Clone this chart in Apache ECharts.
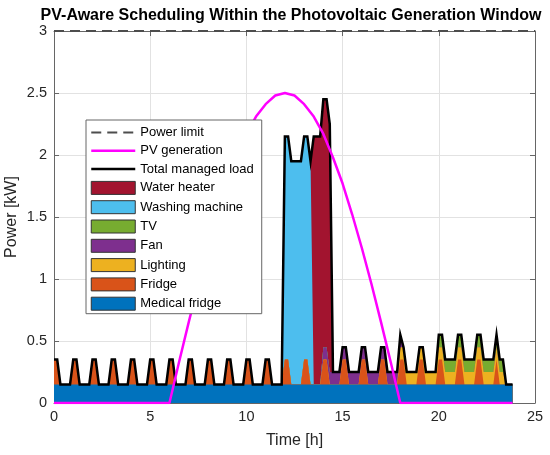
<!DOCTYPE html>
<html>
<head>
<meta charset="utf-8">
<script src="https://cdn.jsdelivr.net/npm/echarts@6/dist/echarts.min.js"></script>
<style>
html, body { margin: 0; padding: 0; background: #fff; }
#chart { width: 550px; height: 455px; }
</style>
</head>
<body>
<div id="chart"></div>
<script>
/**************** data ****************/
var sampleMinutes = 10;       // schedule time step
var dayEnd = '23:50';         // last sample of the day
var xTicks = [0, 5, 10, 15, 20, 25];
var yTicks = [0, 0.5, 1, 1.5, 2, 2.5, 3];
var powerLimitKW = 3;

// power of each appliance [kW] and when it runs (hh:mm, both ends included)
var medicalFridgeKW = 0.15;
var medicalFridgeOn = [['00:00', '23:50']];

var fridgeKW = 0.2;
var fridgeOn = [
    ['00:00', '00:10'], ['01:00', '01:10'], ['02:00', '02:10'], ['03:00', '03:10'],
    ['04:00', '04:10'], ['05:00', '05:10'], ['06:00', '06:10'], ['07:00', '07:10'],
    ['08:00', '08:10'], ['09:00', '09:10'], ['10:00', '10:10'], ['11:00', '11:10'],
    ['12:00', '12:10'], ['13:00', '13:10'], ['14:00', '14:10'], ['15:00', '15:10'],
    ['16:00', '16:10'], ['17:00', '17:10'], ['18:00', '18:10'], ['19:00', '19:10'],
    ['20:00', '20:10'], ['21:00', '21:10'], ['22:00', '22:10'], ['23:00', '23:00']
];

var lightingKW = 0.1;
var lightingOn = [['18:00', '23:20']];

var fanKW = 0.1;
var fanOn = [['14:00', '18:00']];

var tvKW = 0.1;
var tvOn = [['20:00', '23:20']];

var washingKW = 1.8;
var washingOn = [['12:00', '13:20']];

var heaterKW = 2.0;
var heaterOn = [['13:30', '14:20']];

// PV generation (magenta curve), read every half hour
var pvHours = [0, 6, 6.5, 7, 7.5, 8, 8.5, 9, 9.5, 10, 10.5, 11, 11.5, 12,
    12.5, 13, 13.5, 14, 14.5, 15, 15.5, 16, 16.5, 17, 17.5, 18, 23.83];
var pvKW = [0, 0, 0.33, 0.65, 0.96, 1.25, 1.52, 1.77, 1.98, 2.17, 2.31, 2.41, 2.48, 2.5,
    2.48, 2.41, 2.31, 2.17, 1.98, 1.77, 1.52, 1.25, 0.96, 0.65, 0.33, 0, 0];

/**************** build the series ****************/
var font = "'Liberation Sans', Arial, Helvetica, sans-serif";

function toMin(s) {
    var p = s.split(':');
    return +p[0] * 60 + +p[1];
}

var sampleMin = [];
for (var m = 0; m <= toMin(dayEnd); m += sampleMinutes) sampleMin.push(m);

function profile(kw, intervals) {
    return sampleMin.map(function(m) {
        var on = intervals.some(function(iv) {
            return m >= toMin(iv[0]) && m <= toMin(iv[1]);
        });
        return on ? kw : 0;
    });
}

// stacking order, bottom to top
var loads = [
    { name: 'Medical fridge', kw: profile(medicalFridgeKW, medicalFridgeOn), color: '#0072BD' },
    { name: 'Fridge', kw: profile(fridgeKW, fridgeOn), color: '#D95319' },
    { name: 'Lighting', kw: profile(lightingKW, lightingOn), color: '#EDB120' },
    { name: 'Fan', kw: profile(fanKW, fanOn), color: '#7E2F8E' },
    { name: 'TV', kw: profile(tvKW, tvOn), color: '#77AC30' },
    { name: 'Washing machine', kw: profile(washingKW, washingOn), color: '#4DBEEE' },
    { name: 'Water heater', kw: profile(heaterKW, heaterOn), color: '#A2142F' }
];

// cumulative tops of the stack (each layer is filled down to zero,
// higher layers painted first so the lower ones cover them)
var running = sampleMin.map(function() { return 0; });
loads.forEach(function(l) {
    running = running.map(function(v, i) { return Math.round((v + l.kw[i]) * 1000) / 1000; });
    l.data = running.map(function(v, i) { return [sampleMin[i] / 60, v]; });
});

var totalLoad = loads[loads.length - 1].data;
var pvData = pvHours.map(function(h, i) { return [h, pvKW[i]]; });
var limitData = [[xTicks[0], powerLimitKW], [xTicks[xTicks.length - 1], powerLimitKW]];

var series = loads.slice().reverse().map(function(l) {
    return {
        type: 'line',
        name: l.name,
        data: l.data,
        symbol: 'none',
        silent: true,
        lineStyle: { width: 0 },
        itemStyle: { color: l.color },
        areaStyle: { color: l.color, opacity: 1, origin: 'start' },
        z: 2
    };
});

series.push({
    type: 'line', name: 'Power limit', data: limitData, symbol: 'none', silent: true,
    itemStyle: { color: '#4d4d4d' },
    lineStyle: { color: '#4d4d4d', width: 2, type: [10, 6] }, z: 4
});
series.push({
    type: 'line', name: 'Total managed load', data: totalLoad, symbol: 'none', silent: true,
    itemStyle: { color: '#000' },
    lineStyle: { color: '#000', width: 2.5, join: 'miter' }, z: 5
});
series.push({
    type: 'line', name: 'PV generation', data: pvData, symbol: 'none', silent: true,
    itemStyle: { color: '#FF00FF' },
    lineStyle: { color: '#FF00FF', width: 2.5 }, z: 6
});

var lineLegend = function(name, w) {
    return { name: name, itemStyle: { opacity: 0 }, lineStyle: { width: w } };
};
var patchLegend = function(name) {
    var c = loads.filter(function(l) { return l.name === name; })[0].color;
    return { name: name, icon: 'rect', itemStyle: { color: c, borderColor: '#333', borderWidth: 1 } };
};

var axisColor = '#666';
var labelStyle = { fontSize: 14.5, color: '#262626', fontFamily: font };
var nameStyle = { fontSize: 16, color: '#262626', fontFamily: font };

var myChart = echarts.init(document.getElementById('chart'));

var option = {
    animation: false,
    backgroundColor: '#fff',
    title: {
        text: 'PV-Aware Scheduling Within the Photovoltaic Generation Window',
        left: 286,
        textAlign: 'center',
        top: 3,
        textStyle: { fontSize: 16, fontWeight: 'bold', color: '#000', fontFamily: font }
    },
    legend: {
        orient: 'vertical',
        left: 86,
        top: 120,
        z: 20,
        itemWidth: 44,
        itemHeight: 13,
        itemGap: 5.3,
        padding: [6, 8, 3, 4],
        backgroundColor: '#fff',
        borderColor: '#666',
        borderWidth: 1,
        borderRadius: 0,
        selectedMode: false,
        textStyle: { fontSize: 13, color: '#000', fontFamily: font },
        data: [
            lineLegend('Power limit', 2),
            lineLegend('PV generation', 2.5),
            lineLegend('Total managed load', 2.5),
            patchLegend('Water heater'),
            patchLegend('Washing machine'),
            patchLegend('TV'),
            patchLegend('Fan'),
            patchLegend('Lighting'),
            patchLegend('Fridge'),
            patchLegend('Medical fridge')
        ]
    },
    grid: { left: 54, right: 15, top: 31, bottom: 52, containLabel: false, outerBoundsMode: 'none' },
    xAxis: [{
        type: 'value',
        min: xTicks[0], max: xTicks[xTicks.length - 1], interval: xTicks[1] - xTicks[0],
        name: 'Time [h]', nameLocation: 'middle', nameGap: 30, nameMoveOverlap: false,
        nameTextStyle: nameStyle,
        axisLine: { show: true, onZero: false, lineStyle: { color: axisColor, width: 1 } },
        axisTick: { show: true, inside: true, length: 5, lineStyle: { color: axisColor } },
        axisLabel: Object.assign({ margin: 6 }, labelStyle),
        splitLine: { show: true, lineStyle: { color: '#e2e2e2', width: 1 } }
    }, {
        type: 'value', position: 'top',
        min: xTicks[0], max: xTicks[xTicks.length - 1], interval: xTicks[1] - xTicks[0],
        axisLine: { show: true, onZero: false, lineStyle: { color: axisColor, width: 1 } },
        axisTick: { show: true, inside: true, length: 5, lineStyle: { color: axisColor } },
        axisLabel: { show: false },
        splitLine: { show: false }
    }],
    yAxis: [{
        type: 'value',
        min: yTicks[0], max: yTicks[yTicks.length - 1], interval: yTicks[1] - yTicks[0],
        name: 'Power [kW]', nameLocation: 'middle', nameGap: 34, nameMoveOverlap: false,
        nameTextStyle: nameStyle,
        axisLine: { show: true, onZero: false, lineStyle: { color: axisColor, width: 1 } },
        axisTick: { show: true, inside: true, length: 5, lineStyle: { color: axisColor } },
        axisLabel: Object.assign({ margin: 7 }, labelStyle),
        splitLine: { show: true, lineStyle: { color: '#e2e2e2', width: 1 } }
    }, {
        type: 'value', position: 'right',
        min: yTicks[0], max: yTicks[yTicks.length - 1], interval: yTicks[1] - yTicks[0],
        axisLine: { show: true, onZero: false, lineStyle: { color: axisColor, width: 1 } },
        axisTick: { show: true, inside: true, length: 5, lineStyle: { color: axisColor } },
        axisLabel: { show: false },
        splitLine: { show: false }
    }],
    series: series
};

myChart.setOption(option);
</script>
</body>
</html>
